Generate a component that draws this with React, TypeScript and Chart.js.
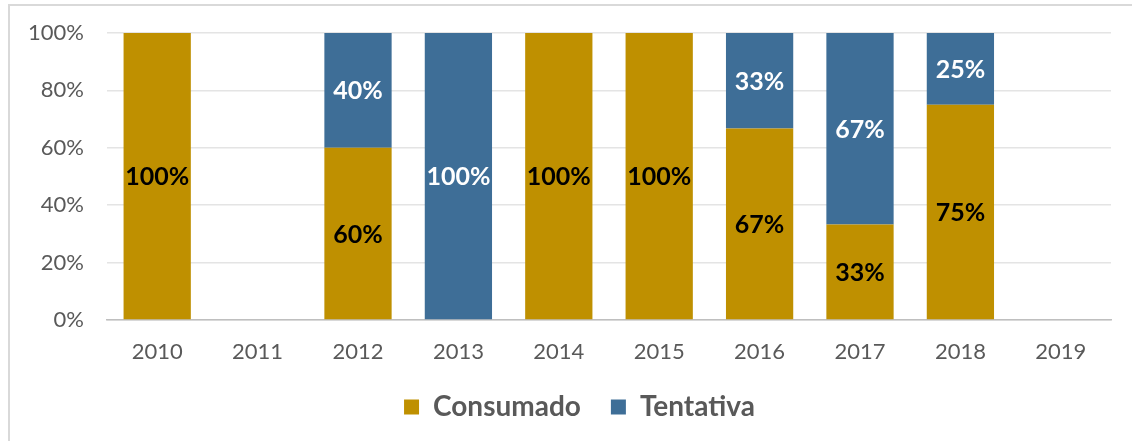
import React, { useEffect, useRef } from "react";
import { Chart, registerables } from "chart.js";

Chart.register(...registerables);

const categories = ["2010", "2011", "2012", "2013", "2014", "2015", "2016", "2017", "2018", "2019"];
const consumado: (number | null)[] = [100, null, 60, null, 100, 100, 66.7, 33.3, 75, null];
const tentativa: (number | null)[] = [null, null, 40, 100, null, null, 33.3, 66.7, 25, null];
const seriesNames = ["Consumado", "Tentativa"];
const seriesColors = ["#BF9000", "#3E6E97"];
const labelColors = ["#000000", "#FFFFFF"];

const FONT = "Lato, 'Open Sans', sans-serif";

const dataLabelPlugin = {
  id: "segmentLabels",
  afterDatasetsDraw(chart: any) {
    const ctx = chart.ctx;
    ctx.save();
    ctx.font = `bold 25px ${FONT}`;
    ctx.textAlign = "center";
    ctx.textBaseline = "middle";
    chart.data.datasets.forEach((ds: any, di: number) => {
      const meta = chart.getDatasetMeta(di);
      meta.data.forEach((el: any, i: number) => {
        const v = ds.data[i];
        if (v == null || v === 0) return;
        const yMid = (el.y + el.base) / 2;
        ctx.fillStyle = labelColors[di];
        ctx.fillText(`${Math.round(v)}%`, el.x, yMid + 1);
      });
    });
    ctx.restore();
  },
};

const legendShiftPlugin = {
  id: "legendShift",
  afterLayout(chart: any) {
    const lg = chart.legend;
    if (lg) {
      lg.left += 24;
      lg.right += 24;
    }
  },
};

export default function App() {
  const ref = useRef<HTMLCanvasElement | null>(null);

  useEffect(() => {
    if (!ref.current) return;
    const chart = new Chart(ref.current, {
      type: "bar",
      data: {
        labels: categories,
        datasets: [
          {
            label: seriesNames[0],
            data: consumado,
            backgroundColor: seriesColors[0],
            barPercentage: 0.67,
            categoryPercentage: 1,
          },
          {
            label: seriesNames[1],
            data: tentativa,
            backgroundColor: seriesColors[1],
            barPercentage: 0.67,
            categoryPercentage: 1,
          },
        ],
      },
      options: {
        animation: false,
        responsive: true,
        maintainAspectRatio: false,
        layout: { padding: { left: 0, right: 21, top: 33, bottom: 10 } },
        plugins: {
          tooltip: { enabled: false },
          title: { display: false },
          legend: {
            display: true,
            position: "bottom",
            labels: {
              boxWidth: 15,
              boxHeight: 15,
              padding: 30,
              color: "#595959",
              font: { family: FONT, size: 28, weight: "bold" },
            },
          },
        },
        scales: {
          x: {
            stacked: true,
            grid: { display: false, drawTicks: false },
            border: { display: true, color: "#BFBFBF", width: 1.5 },
            ticks: {
              padding: 19,
              color: "#595959",
              font: { family: FONT, size: 22 },
            },
            afterFit: (s: any) => {
              s.height = 43;
            },
          },
          y: {
            stacked: true,
            min: 0,
            max: 100,
            grid: { color: "#E4E4E4", lineWidth: 1.5, drawTicks: false },
            border: { display: false },
            ticks: {
              stepSize: 20,
              padding: 23,
              color: "#595959",
              font: { family: FONT, size: 22 },
              callback: (v: any) => `${v}%`,
            },
            afterFit: (s: any) => {
              s.width = 107;
              s.paddingTop = 0;
              s.paddingBottom = 0;
            },
          },
        },
      },
      plugins: [dataLabelPlugin, legendShiftPlugin],
    });
    return () => chart.destroy();
  }, []);

  return (
    <>
      <div
        style={{
          position: "absolute",
          left: 8,
          top: 4,
          width: 1124,
          height: 437,
          boxSizing: "border-box",
          borderTop: "2px solid #D9D9D9",
          borderLeft: "2px solid #D9D9D9",
          background: "#FFFFFF",
        }}
      />
      <div style={{ position: "absolute", left: 0, top: 0, width: 1132, height: 441 }}>
        <canvas ref={ref} />
      </div>
    </>
  );
}
